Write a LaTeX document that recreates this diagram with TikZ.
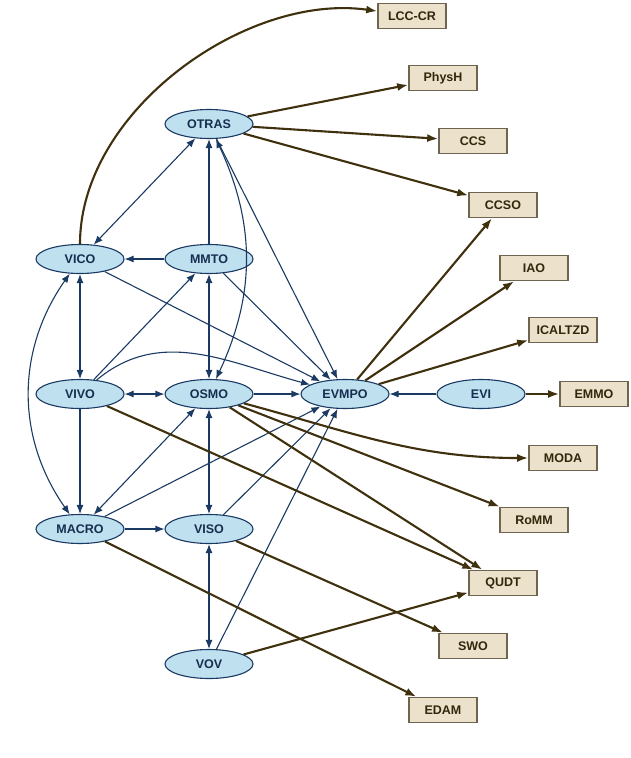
\documentclass[tikz,border=0pt]{standalone}
\usepackage{fontspec}
\setmainfont{Liberation Sans}
\usetikzlibrary{arrows.meta,shapes.geometric}
\definecolor{ebg}{HTML}{BFE0EF}
\definecolor{eln}{HTML}{1B3A63}
\definecolor{bbg}{HTML}{ECE2CC}
\definecolor{bln}{HTML}{6E6450}
\definecolor{brn}{HTML}{3F300E}
\tikzset{
 ell/.style={ellipse,draw=eln,fill=ebg,line width=1.1pt,minimum width=88pt,minimum height=29pt,inner sep=0pt,font=\bfseries\fontsize{12.5}{14}\selectfont,text=eln!80!black},
 bx/.style={rectangle,draw=bln,fill=bbg,line width=1.6pt,minimum width=68pt,minimum height=25pt,inner sep=0pt,font=\bfseries\fontsize{12.5}{14}\selectfont,text=brn!80!black},
 bl/.style={draw=eln,line width=1.1pt,-{Latex[length=9pt,width=7pt]}},
 blb/.style={draw=eln,line width=1.1pt,{Latex[length=9pt,width=7pt]}-{Latex[length=9pt,width=7pt]}},
 br/.style={draw=brn,line width=2.1pt,-{Latex[length=11pt,width=8pt]}},
}
\begin{document}
\begin{tikzpicture}[x=1pt,y=-1pt]
\useasboundingbox (0,0) rectangle (630,758);
\node[ell] (OTRAS) at (209,124) {OTRAS};
\node[ell] (VICO) at (80,259) {VICO};
\node[ell] (MMTO) at (209,259) {MMTO};
\node[ell] (VIVO) at (80,394) {VIVO};
\node[ell] (OSMO) at (209,394) {OSMO};
\node[ell] (EVMPO) at (345,394) {EVMPO};
\node[ell] (EVI) at (481,394) {EVI};
\node[ell] (MACRO) at (80,529) {MACRO};
\node[ell] (VISO) at (209,529) {VISO};
\node[ell] (VOV) at (209,664) {VOV};
\node[bx] (LCC) at (412,16) {LCC-CR};
\node[bx] (PhysH) at (443,78) {PhysH};
\node[bx] (CCS) at (473,141) {CCS};
\node[bx] (CCSO) at (503,205) {CCSO};
\node[bx] (IAO) at (534,268) {IAO};
\node[bx] (ICALTZD) at (563,330) {ICALTZD};
\node[bx] (EMMO) at (594,394) {EMMO};
\node[bx] (MODA) at (563,458) {MODA};
\node[bx] (RoMM) at (534,520) {RoMM};
\node[bx] (QUDT) at (503,583) {QUDT};
\node[bx] (SWO) at (473,646) {SWO};
\node[bx] (EDAM) at (443,710) {EDAM};
% blue
\draw[blb] (VICO) -- (OTRAS);
\draw[bl] (MMTO) -- (OTRAS);
\draw[bl] (MMTO) -- (VICO);
\draw[blb] (VICO) -- (VIVO);
\draw[bl] (VIVO) -- (MMTO);
\draw[blb] (MMTO) -- (OSMO);
\draw[bl] (MMTO) -- (EVMPO);
\draw[bl] (VICO) -- (EVMPO);
\draw[bl] (OTRAS) -- (EVMPO);
\draw[blb] (OTRAS) to[bend left=25] (OSMO);
\draw[bl] (VIVO) to[out=40,in=165] (EVMPO);
\draw[blb] (VIVO) -- (OSMO);
\draw[bl] (OSMO) -- (EVMPO);
\draw[bl] (EVI) -- (EVMPO);
\draw[bl] (VIVO) -- (MACRO);
\draw[blb] (VICO) to[out=235,in=125] (MACRO);
\draw[blb] (MACRO) -- (OSMO);
\draw[bl] (MACRO) -- (EVMPO);
\draw[bl] (MACRO) -- (VISO);
\draw[blb] (OSMO) -- (VISO);
\draw[bl] (VISO) -- (EVMPO);
\draw[blb] (VISO) -- (VOV);
\draw[bl] (VOV) -- (EVMPO);
% brown
\draw[br] (VICO) to[out=90,in=172,looseness=0.9] (LCC);
\draw[br] (OTRAS) -- (PhysH);
\draw[br] (OTRAS) -- (CCS);
\draw[br] (OTRAS) -- (CCSO);
\draw[br] (EVMPO) -- (CCSO);
\draw[br] (EVMPO) -- (IAO);
\draw[br] (EVMPO) -- (ICALTZD);
\draw[br] (EVI) -- (EMMO);
\draw[br] (OSMO) to[out=-15,in=180] (MODA);
\draw[br] (OSMO) -- (RoMM);
\draw[br] (OSMO) -- (QUDT);
\draw[br] (VIVO) -- (QUDT);
\draw[br] (VISO) -- (SWO);
\draw[br] (VOV) -- (QUDT);
\draw[br] (MACRO) -- (EDAM);
\end{tikzpicture}
\end{document}
